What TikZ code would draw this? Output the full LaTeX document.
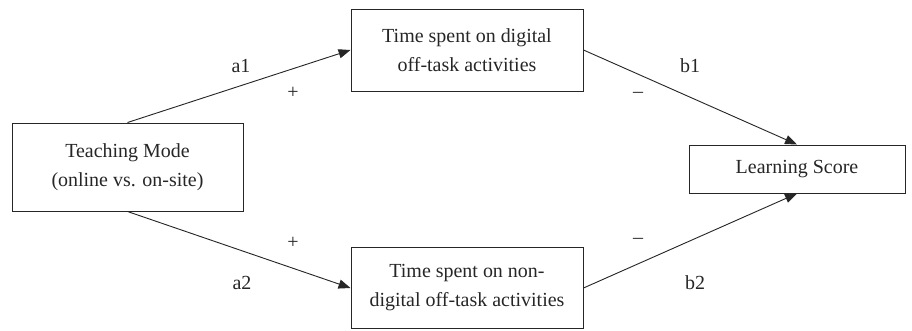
\documentclass[tikz,border=0pt]{standalone}
\usepackage{fontspec}
\setmainfont{Liberation Serif}
\usetikzlibrary{arrows.meta}
\begin{document}
\begin{tikzpicture}[x=0.025cm,y=-0.025cm,every node/.style={font=\fontsize{14.2}{20.6}\selectfont,text=black!85},
  varbox/.style={draw=black!85,line width=.7pt,align=center,inner sep=0pt},
  path/.style={draw=black!85,line width=.65pt,-{Triangle[length=8.5pt,width=6.5pt]}}]
\useasboundingbox (0,0) rectangle (912,330);
\node[varbox,minimum width=231*0.025cm,minimum height=88*0.025cm] (mode) at (127.5,167) {Teaching Mode\\(online vs. on-site)};
\node[varbox,minimum width=232*0.025cm,minimum height=82*0.025cm] (dig) at (467,50) {Time spent on digital\\off-task activities};
\node[varbox,minimum width=232*0.025cm,minimum height=81*0.025cm] (nondig) at (467,288) {Time spent on non-\\digital off-task activities};
\node[varbox,minimum width=216*0.025cm,minimum height=48*0.025cm] (score) at (797,169) {Learning Score};
\draw[path] (mode.north)--(dig.west);
\draw[path] (mode.south)--(nondig.west);
\draw[path] (dig.east)--(score.north);
\draw[path] (nondig.east)--(score.south);
\node (a1) at (241,66) {a1};
\node (pa1) at (293,93) {+};
\node (b1) at (690,66) {b1};
\node (mb1) at (638,95) {--};
\node (pa2) at (293,243) {+};
\node (a2) at (242,283) {a2};
\node (mb2) at (638,241) {--};
\node (b2) at (695,283) {b2};
\end{tikzpicture}
\end{document}
